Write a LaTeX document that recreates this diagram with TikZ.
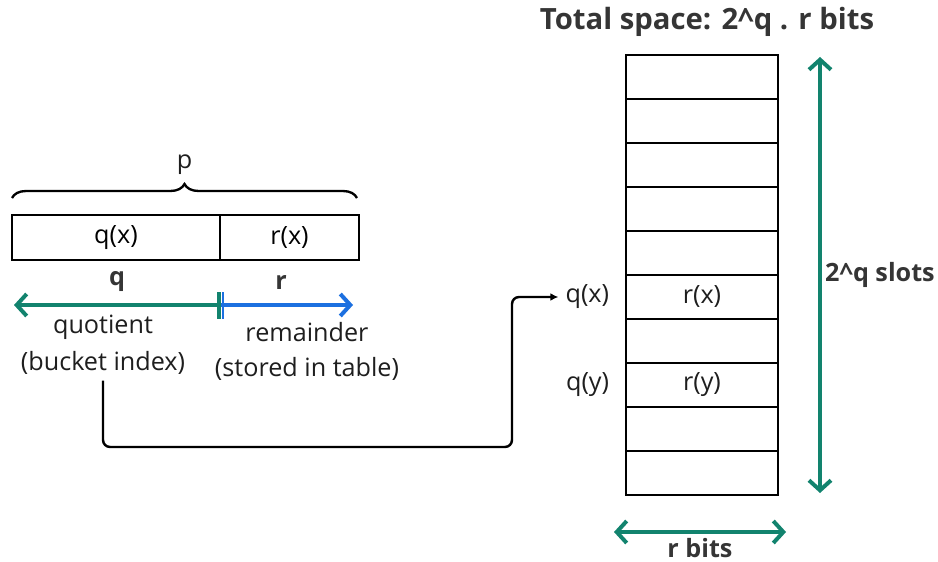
\documentclass[tikz,border=0pt]{standalone}
\usepackage{fontspec}
\setmainfont{Open Sans}
\usetikzlibrary{arrows.meta,decorations.pathreplacing,positioning}
\definecolor{qgreen}{HTML}{12836E}
\definecolor{rblue}{HTML}{1C70E0}
\definecolor{ink}{HTML}{1E1E1E}
\tikzset{field/.style={
  draw=black,
  line width=2.1pt,
  minimum height=1.35cm,
  inner sep=0pt,
  font=\fontsize{21.5}{25}\selectfont}}
\tikzset{slot/.style={
  draw=black,
  line width=2.5pt,
  minimum width=4.56cm,
  minimum height=1.32cm,
  inner sep=0pt,
  font=\fontsize{21.5}{25}\selectfont}}
\tikzset{lbl/.style={
  ink,
  inner sep=1pt,
  font=\fontsize{21.5}{25}\selectfont}}
\tikzset{blbl/.style={
  ink!90,
  inner sep=1pt,
  font=\fontsize{21.5}{25}\selectfont\bfseries}}
\tikzset{span/.style={
  qgreen,
  line width=3.4pt,
  {Straight Barb[length=3mm,width=6.6mm]}-{Straight Barb[length=3mm,width=6.6mm]}}}

\begin{document}
\begin{tikzpicture}[x=0.03cm,y=-0.03cm,
  link/.style={
    black,
    line width=2.1pt,
    rounded corners=6,
    -{Latex[length=2.4mm,width=2.4mm]}}
]
  \useasboundingbox (0,0) rectangle (938,562);

  %%%% Left part: the fingerprint split in two %%%%
  \node[field,minimum width=6.24cm] (qbox) at (116,237.5) {q(x)};
  \node[field,minimum width=4.17cm,right=-2.1pt of qbox] (rbox) {r(x)};
  \draw[line width=2pt,decorate,
    decoration={brace,amplitude=0.42cm}]
    (12,198) -- coordinate[pos=.5] (tip) (357,198);
  \node[lbl,above=0.65cm of tip] (p) {p};

  %% Split line under the fields
  \coordinate (cut) at (220,305);
  \draw[qgreen,line width=3.4pt,-{Straight Barb[length=3mm,width=6.6mm]}]
    (cut) -- (14,305);
  \draw[rblue,line width=3.4pt,-{Straight Barb[length=3mm,width=6.6mm]}]
    (cut) -- (353,305);
  \draw[qgreen,line width=4.2pt] (219,292) -- (219,319);
  \draw[rblue,line width=2pt] (223,292) -- (223,319);
  \node[blbl] (qlen) at (117,282) {q};
  \node[blbl] (rlen) at (281,282) {r};
  \node[lbl] (quot) at (103,327) {quotient};
  \node[lbl] (bucket) at (103,363) {(bucket index)};
  \node[lbl] (rem) at (307,332) {remainder};
  \node[lbl] (stored) at (307,369) {(stored in table)};

  %%%% Right part: the table of slots %%%%
  \node[blbl,font=\fontsize{25}{29}\selectfont\bfseries] (title) at (707,22)
    {Total space: 2\^{}q . r bits};
  \foreach \row in {0,...,9}{
    \node[slot] (slot-\row) at (702,77+44*\row) {};
  }
  \node[lbl] at (slot-5) {r(x)};
  \node[lbl] at (slot-7) {r(y)};
  \node[lbl,left=0.42cm of slot-5] (qx) {q(x)};
  \node[lbl,left=0.42cm of slot-7] (qy) {q(y)};

  %% Sizes of the table
  \coordinate (top) at (820,57);
  \coordinate (bot) at (820,493);
  \draw[span] (top) -- (bot);
  \node[blbl] (slots) at (880,275) {2\^{}q slots};
  \coordinate (wl) at (614,532);
  \coordinate (wr) at (786,532);
  \draw[span] (wl) -- (wr);
  \node[blbl] (rbits) at (700,548) {r bits};

  %% From the bucket index to its slot
  \coordinate (turn) at (512,447);
  \draw[link,shorten <=4] (bucket.south) |- (turn) |- ([xshift=-5]qx.west);

\end{tikzpicture}
\end{document}
